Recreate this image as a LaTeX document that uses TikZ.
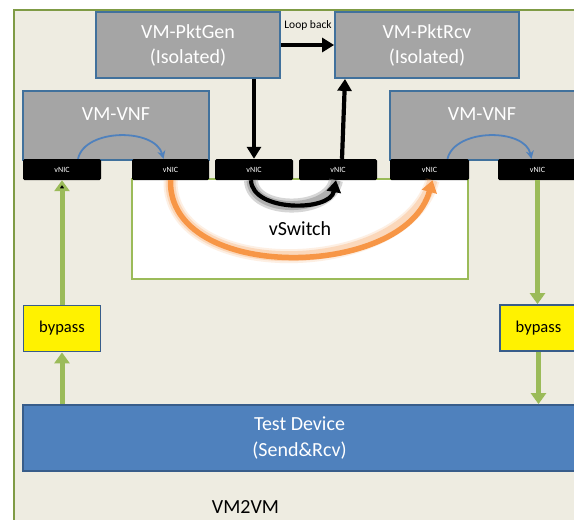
\documentclass[tikz,border=0pt]{standalone}
\usepackage{fontspec}
\setmainfont{Carlito}
\usepackage{xcolor}
\usepackage{tikz}
\usetikzlibrary{arrows.meta}
\definecolor{vmgray}{HTML}{A5A5A5}
\definecolor{vmblue}{HTML}{41719C}
\definecolor{tdblue}{HTML}{4F81BD}
\definecolor{tdedge}{HTML}{385D8A}
\definecolor{bgtan}{HTML}{EEECE1}
\definecolor{hostgreen}{HTML}{7F9B45}
\definecolor{linkgreen}{HTML}{9BBB59}
\definecolor{flowblue}{HTML}{4F81BD}
\definecolor{hairpin}{HTML}{F79646}

\begin{document}
\begin{tikzpicture}[x=1pt,y=-1pt,
    vmbox/.style={rectangle,draw=vmblue,fill=vmgray,line width=1.8pt,inner sep=0pt,text=white,align=center,font=\fontsize{20}{25}\selectfont},
    vmtext/.style={inner sep=0pt,text=white,font=\fontsize{20}{25}\selectfont},
    nicbox/.style={rectangle,fill=black,rounded corners=1.5pt,minimum height=21pt,inner sep=0pt,text=white,font=\fontsize{8}{9}\selectfont},
    passbox/.style={rectangle,draw=tdedge,fill=yellow,line width=1.8pt,minimum width=77pt,minimum height=46pt,inner sep=0pt,font=\fontsize{16.5}{20}\selectfont},
    fatarrow/.style={line width=4.2pt,-{Triangle[length=12pt,width=14pt]}},
    greenarrow/.style={draw=linkgreen,line width=5pt,-{Triangle[length=11pt,width=15pt]}},
    turnarrow/.style={draw=flowblue,line width=1.8pt,-{Stealth[length=8pt,width=8pt]}}]
    %
    \useasboundingbox (0,0) rectangle (574,520);
    \clip (0,0) rectangle (574,520);
    \fill[bgtan] (14,10) rectangle (590,530);
    \draw[hostgreen,line width=2.2pt] (14,530) -- (14,10) -- (590,10);
    %
    \node[draw=linkgreen,fill=white,line width=1.8pt,minimum width=336pt,minimum height=100pt,inner sep=0pt,font=\fontsize{20}{24}\selectfont] (vswitch) at (300,229) {vSwitch};

    \node[vmbox,minimum width=184pt,minimum height=66pt] (pktgen) at (188,45) {VM-PktGen\\(Isolated)};
    \node[vmbox,minimum width=184pt,minimum height=66pt] (pktrcv) at (427,45) {VM-PktRcv\\(Isolated)};
    \node[inner sep=0pt,font=\fontsize{11.5}{13}\selectfont] (loopback) at (308,25) {Loop back};

    \node[vmbox,minimum width=186pt,minimum height=69pt] (vnfL) at (116,125.5) {};
    \node[vmtext] (vnfLname) at (116,114) {VM-VNF};
    \node[vmbox,minimum width=186pt,minimum height=69pt] (vnfR) at (483,125.5) {};
    \node[vmtext] (vnfRname) at (482,114) {VM-VNF};
    %
    \node[nicbox,minimum width=78pt] (nicA) at (62,169.5) {vNIC};
    \node[nicbox,minimum width=77pt] (nicB) at (170.5,169.5) {vNIC};
    \node[nicbox,minimum width=78pt] (nicC) at (254,169.5) {vNIC};
    \node[nicbox,minimum width=78pt] (nicD) at (338,169.5) {vNIC};
    \node[nicbox,minimum width=79pt] (nicE) at (429.5,169.5) {vNIC};
    \node[nicbox,minimum width=79pt] (nicF) at (537.5,169.5) {vNIC};
    %
    \node[passbox] (bypassL) at (62,328.5) {bypass};
    \node[passbox] (bypassR) at (538.5,328) {bypass};

    \node[rectangle,draw=tdedge,fill=tdblue,line width=1.8pt,minimum width=553pt,minimum height=66pt,inner sep=0pt,text=white,align=center,font=\fontsize{20}{26}\selectfont] (testdev) at (299.5,438) {Test Device\\(Send\&Rcv)};
    \node[inner sep=0pt,font=\fontsize{20}{24}\selectfont] (vmvm) at (245.5,507) {VM2VM};
    %
    \draw[fatarrow] (pktgen) edge (pktrcv);
    \draw[fatarrow] (pktgen.south -| nicC) -- (nicC.north);
    \draw[fatarrow] ([xshift=4pt]nicD.north) -- ([xshift=-82pt]pktrcv.south);

    \draw[black!45,line width=14pt,opacity=0.35] ([xshift=-3pt]nicC.south) .. controls (252,214) and (330,214) .. ([xshift=-2pt]nicD.south);
    \draw[black!45,line width=9pt,opacity=0.5] ([xshift=-3pt]nicC.south) .. controls (252,214) and (330,214) .. ([xshift=-2pt]nicD.south);
    \draw[fatarrow] ([xshift=-3pt]nicC.south) .. controls (252,212) and (330,212) .. ([xshift=-2pt]nicD.south);

    \draw[hairpin,line width=14pt,opacity=0.15] (nicB.south) .. controls (168,283) and (405,280) .. ([xshift=3pt]nicE.south);
    \draw[hairpin,line width=10pt,opacity=0.25] (nicB.south) .. controls (168,283) and (405,280) .. ([xshift=3pt]nicE.south);
    \draw[hairpin,line width=5.5pt,-{Triangle[length=12pt,width=15pt]}] (nicB.south) .. controls (168,283) and (405,280) .. ([xshift=3pt]nicE.south);

    \draw[turnarrow] ([xshift=16pt]nicA.north) .. controls (85,128) and (155,128) .. ([xshift=-7pt]nicB.north);
    \draw[turnarrow] ([xshift=18pt]nicE.north) .. controls (455,128) and (525,128) .. ([xshift=-6pt]nicF.north);
    %
    \draw[greenarrow] (bypassL) edge (nicA);
    \draw[greenarrow] (testdev.north -| bypassL) -- (bypassL.south);
    \draw[greenarrow] (nicF.south) -- (nicF.south |- bypassR.north);
    \draw[greenarrow] (bypassR.south) -- (bypassR.south |- testdev.north);
    %
\end{tikzpicture}
\end{document}
